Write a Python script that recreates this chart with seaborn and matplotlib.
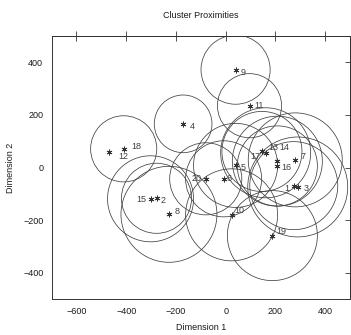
import matplotlib

matplotlib.use("Agg")
import matplotlib.pyplot as plt
import numpy as np
import pandas as pd
import seaborn as sns
from matplotlib.patches import Ellipse

# cluster centers on the two dimensions, and circle radius (dimension-1 units)
clusters = [str(i) for i in range(1, 21)]
dim1 = [274, -278, 290, -171, 40, -8, 280, -228, 40, 24,
        96, -469, 161, 208, -302, 208, 146, -410, 188, -80]
dim2 = [-69, -117, -74, 166, 8, -43, 29, -178, 372, -180,
        235, 59, 56, 24, -119, 6, 61, 71, -259, -43]
radius = [177, 141, 201, 116, 169, 153, 189, 193, 139, 185,
          129, 0, 181, 181, 173, 161, 161, 133, 181, 145]
xticks = [-600, -400, -200, 0, 200, 400]
yticks = [-400, -200, 0, 200, 400]

# where each number sits next to its star (pixels)
label_pos = {
    "1": (-4, -3, "right"), "2": (4, -2, "left"), "3": (6, -2, "left"),
    "4": (7, -3, "left"), "5": (5, -2, "left"), "6": (3, 0, "left"),
    "7": (5, 3, "left"), "8": (6, 3, "left"), "9": (5, -3, "left"),
    "10": (3, 4, "left"), "11": (5, 0, "left"), "12": (9, -5, "left"),
    "13": (3, 5, "left"), "14": (2, 14, "left"), "15": (-4, -1, "right"),
    "16": (4, -2, "left"), "17": (-2, -5, "right"), "18": (8, 2, "left"),
    "19": (4, 4, "left"), "20": (-4, 0, "right"),
}

df = pd.DataFrame({"cluster": clusters, "dim1": dim1, "dim2": dim2, "radius": radius})

sns.set_style("white")
plt.rcParams["font.family"] = ["Liberation Sans", "DejaVu Sans"]

fig = plt.figure(figsize=(3.51, 3.35), dpi=100)
ax = fig.add_axes([0.147, 0.1075, 0.850, 0.785])
ax.set_xlim(-700, 500)
ax.set_ylim(-500, 500)

# circles should look round on screen, so squash the y radius
w_px = 0.850 * 351
h_px = 0.785 * 335
ratio = (w_px / 1200) / (h_px / 1000)

for _, row in df.iterrows():
    if row["radius"] > 0:
        ax.add_patch(Ellipse((row["dim1"], row["dim2"]), 2 * row["radius"],
                             2 * row["radius"] * ratio, fill=False,
                             edgecolor="0.25", linewidth=0.55))

sns.scatterplot(data=df, x="dim1", y="dim2", marker=(6, 2, 0), s=14,
                color="0.2", linewidth=0.6, ax=ax, legend=False)

for _, row in df.iterrows():
    dx, dy, ha = label_pos[row["cluster"]]
    ax.annotate(row["cluster"], (row["dim1"], row["dim2"]), xytext=(dx, dy),
                textcoords="offset pixels", ha=ha, va="center",
                fontsize=6.5, color="0.25")

ax.set_xticks(xticks)
ax.set_yticks(yticks)
ax.tick_params(axis="both", labelsize=6.5, length=4, width=0.6, color="0.2",
               labelcolor="0.1", direction="out", pad=2)
for sp in ax.spines.values():
    sp.set_linewidth(0.7)
    sp.set_color("0.2")

# top and right ticks cross the frame line
top = ax.secondary_xaxis("top")
top.set_xticks(xticks)
top.tick_params(direction="inout", length=7, width=0.6, color="0.2", labeltop=False)
right = ax.secondary_yaxis("right")
right.set_yticks(yticks)
right.tick_params(direction="inout", length=7, width=0.6, color="0.2", labelright=False)
for sec in (top, right):
    for sp in sec.spines.values():
        sp.set_linewidth(0.7)
        sp.set_color("0.2")

ax.set_xlabel("Dimension 1", fontsize=6.5, labelpad=5, color="0.1")
ax.set_ylabel("Dimension 2", fontsize=6.5, labelpad=6, color="0.1")
ax.set_title("Cluster Proximities", fontsize=6.5, pad=13, color="0.1")

fig.savefig("out.png", dpi=100)
plt.close(fig)
